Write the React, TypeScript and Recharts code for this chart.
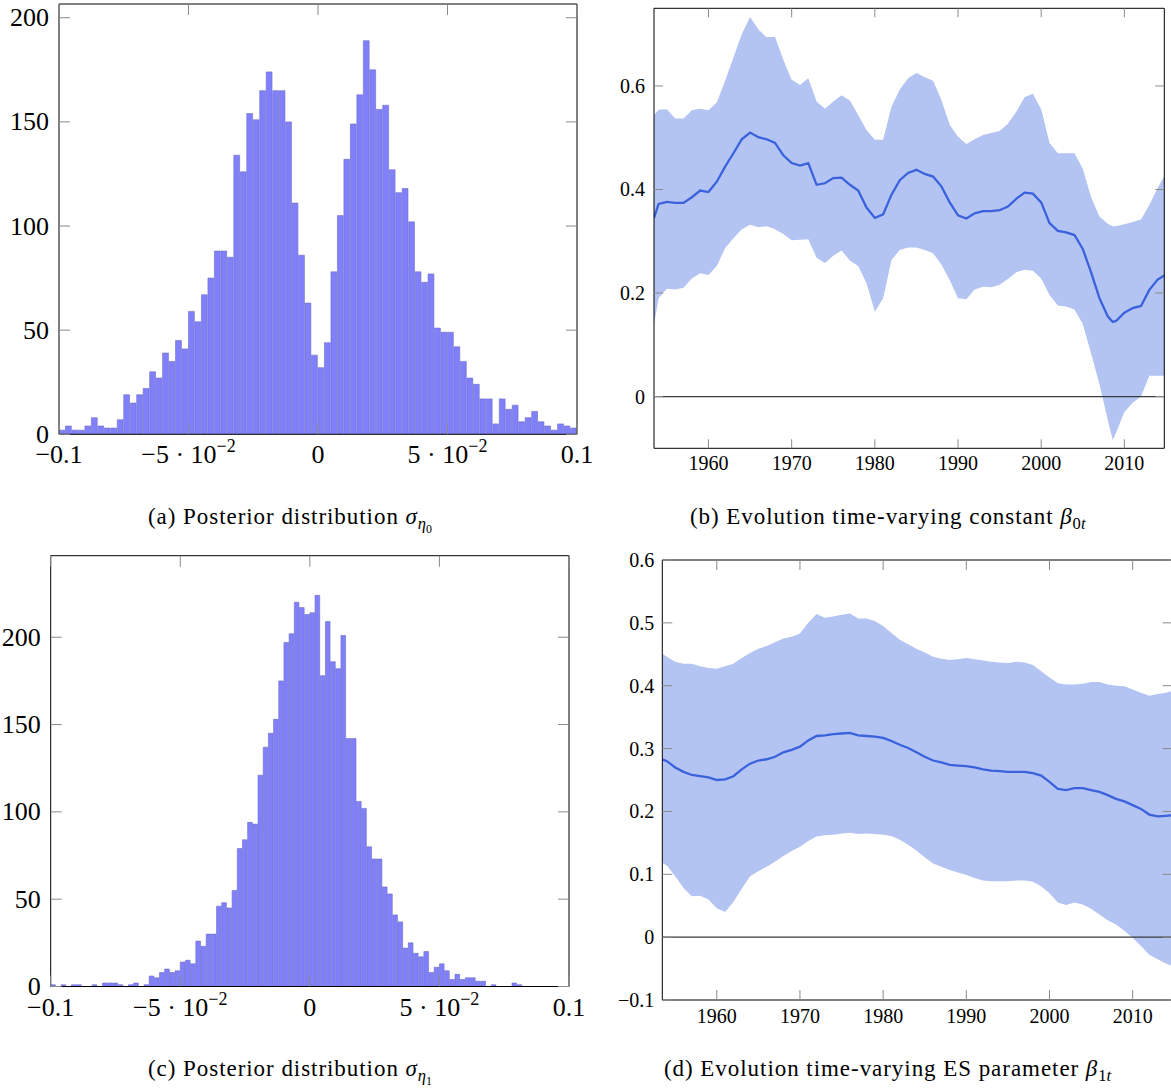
import React from 'react';
import { ComposedChart, Bar, Area, Line, XAxis, YAxis, ReferenceLine } from 'recharts';

const FONT = '"Liberation Serif", "DejaVu Serif", serif';
const TICK = '#8a8a8a';

// (a) posterior sigma_eta0, 80 bins of 0.0025 on [-0.1, 0.1]
const histAStart = -0.1;
const histABin = 0.0025;
const histACounts = [
  2, 4, 2, 2, 4, 8, 4, 3, 3, 7, 19, 15, 19, 22, 30, 27, 39, 35, 45, 41,
  59, 54, 67, 75, 88, 88, 85, 134, 126, 154, 151, 165, 174, 165, 165, 150, 111, 86, 63, 38,
  32, 44, 78, 105, 132, 149, 163, 189, 175, 156, 158, 127, 116, 118, 102, 78, 73, 77, 51, 49,
  49, 42, 35, 27, 24, 17, 17, 5, 17, 12, 14, 6, 8, 11, 6, 4, 2, 5, 4, 3,
];

// (c) posterior sigma_eta1, 100 bins of 0.002 on [-0.1, 0.1]
const histCStart = -0.1;
const histCBin = 0.002;
const histCCounts = [
  1, 0, 1, 0, 1, 1, 0, 0, 1, 0, 2, 2, 2, 1, 0, 1, 2, 0, 1, 6,
  5, 8, 10, 8, 9, 14, 15, 13, 26, 23, 30, 30, 46, 48, 45, 55, 79, 84, 94, 93,
  121, 137, 145, 153, 175, 197, 202, 220, 217, 213,
  214, 224, 178, 209, 186, 182, 201, 142, 142, 106, 102, 80, 73, 73, 57, 53, 41, 37, 22, 25,
  19, 17, 20, 8, 11, 13, 9, 4, 7, 4, 5, 5, 3, 3, 0, 1, 0, 0, 0, 2,
  1, 0, 0, 0, 0, 0, 0, 0, 0, 0,
];

const histXTicks = [-0.1, -0.05, 0, 0.05, 0.1];
const histYTicks = [0, 50, 100, 150, 200];

// (b) time-varying constant beta_0t
const yearsB = [
  1953.45, 1954, 1955, 1956, 1957, 1958, 1959, 1960, 1961, 1962, 1963, 1964, 1965, 1966, 1967, 1968, 1969,
  1970, 1971, 1972, 1973, 1974, 1975, 1976, 1977, 1978, 1979, 1980, 1981, 1982, 1983, 1984, 1985, 1986,
  1987, 1988, 1989, 1990, 1991, 1992, 1993, 1994, 1995, 1996, 1997, 1998, 1999, 2000, 2001, 2002, 2003,
  2004, 2005, 2006, 2007, 2008, 2008.6, 2009, 2010, 2011, 2012, 2013, 2014, 2014.8,
];
const upperB = [
  0.544, 0.554, 0.555, 0.537, 0.537, 0.553, 0.556, 0.553, 0.568, 0.61, 0.655, 0.7, 0.733, 0.709, 0.694, 0.695, 0.65,
  0.612, 0.602, 0.615, 0.57, 0.556, 0.57, 0.582, 0.572, 0.544, 0.515, 0.496, 0.496, 0.56, 0.593, 0.615, 0.625, 0.617,
  0.61, 0.573, 0.525, 0.502, 0.488, 0.497, 0.505, 0.509, 0.513, 0.527, 0.55, 0.578, 0.585, 0.555, 0.49, 0.47, 0.47,
  0.47, 0.44, 0.385, 0.348, 0.334, 0.329, 0.329, 0.333, 0.337, 0.342, 0.37, 0.403, 0.426,
];
const meanB = [
  0.345, 0.372, 0.376, 0.374, 0.374, 0.385, 0.398, 0.395, 0.415, 0.444, 0.47, 0.497, 0.51, 0.501, 0.497, 0.49, 0.466,
  0.451, 0.446, 0.451, 0.409, 0.412, 0.422, 0.423, 0.409, 0.398, 0.365, 0.345, 0.352, 0.39, 0.418, 0.432, 0.438, 0.43,
  0.425, 0.406, 0.375, 0.35, 0.344, 0.354, 0.358, 0.358, 0.36, 0.367, 0.382, 0.394, 0.392, 0.375, 0.335, 0.32, 0.317,
  0.312, 0.285, 0.24, 0.19, 0.155, 0.144, 0.146, 0.162, 0.171, 0.175, 0.206, 0.226, 0.234,
];
const lowerB = [
  0.138, 0.19, 0.208, 0.207, 0.21, 0.228, 0.238, 0.235, 0.252, 0.287, 0.306, 0.323, 0.332, 0.327, 0.329, 0.323, 0.314,
  0.302, 0.303, 0.304, 0.268, 0.258, 0.272, 0.282, 0.263, 0.252, 0.219, 0.164, 0.19, 0.264, 0.283, 0.288, 0.288, 0.283,
  0.277, 0.255, 0.225, 0.19, 0.188, 0.207, 0.212, 0.211, 0.216, 0.227, 0.24, 0.245, 0.243, 0.228, 0.196, 0.176, 0.174,
  0.168, 0.14, 0.083, 0.024, -0.045, -0.084, -0.07, -0.03, -0.012, 0.0, 0.04, 0.04, 0.04,
];

// (d) time-varying ES parameter beta_1t
const yearsD = [
  1953.45, 1954, 1955, 1956, 1957, 1958, 1959, 1960, 1961, 1962, 1963, 1964, 1965, 1966, 1967, 1968, 1969,
  1970, 1971, 1972, 1973, 1974, 1975, 1976, 1977, 1978, 1979, 1980, 1981, 1982, 1983, 1984, 1985, 1986,
  1987, 1988, 1989, 1990, 1991, 1992, 1993, 1994, 1995, 1996, 1997, 1998, 1999, 2000, 2001, 2002, 2003,
  2004, 2005, 2006, 2007, 2008, 2009, 2010, 2011, 2012, 2013, 2014, 2014.8,
];
const upperD = [
  0.451, 0.446, 0.438, 0.435, 0.435, 0.431, 0.428, 0.427, 0.431, 0.435, 0.444, 0.452, 0.459, 0.463, 0.469, 0.475, 0.478,
  0.483, 0.5, 0.514, 0.508, 0.51, 0.513, 0.515, 0.507, 0.507, 0.503, 0.495, 0.484, 0.473, 0.466, 0.459, 0.453, 0.446,
  0.443, 0.441, 0.442, 0.444, 0.442, 0.44, 0.438, 0.437, 0.436, 0.438, 0.437, 0.433, 0.423, 0.413, 0.404, 0.402, 0.402,
  0.403, 0.406, 0.406, 0.402, 0.4, 0.399, 0.394, 0.389, 0.384, 0.387, 0.389, 0.392,
];
const meanD = [
  0.283, 0.28, 0.27, 0.263, 0.258, 0.256, 0.254, 0.25, 0.251, 0.256, 0.267, 0.276, 0.281, 0.283, 0.287, 0.294, 0.298,
  0.303, 0.313, 0.32, 0.321, 0.323, 0.324, 0.325, 0.321, 0.32, 0.319, 0.317, 0.312, 0.306, 0.301, 0.294, 0.287, 0.281,
  0.278, 0.274, 0.273, 0.272, 0.27, 0.267, 0.265, 0.264, 0.263, 0.263, 0.263, 0.261, 0.257, 0.247, 0.236, 0.234, 0.237,
  0.237, 0.234, 0.231, 0.226, 0.22, 0.216, 0.21, 0.204, 0.195, 0.192, 0.193, 0.194,
];
const lowerD = [
  0.118, 0.114, 0.097, 0.078, 0.065, 0.066, 0.06, 0.046, 0.04, 0.056, 0.077, 0.097, 0.105, 0.112, 0.12, 0.129, 0.137,
  0.144, 0.153, 0.16, 0.162, 0.163, 0.165, 0.166, 0.164, 0.165, 0.164, 0.163, 0.161, 0.155, 0.147, 0.138, 0.127, 0.117,
  0.112, 0.107, 0.103, 0.099, 0.094, 0.09, 0.089, 0.089, 0.089, 0.09, 0.09, 0.088, 0.081, 0.07, 0.055, 0.051, 0.055,
  0.052, 0.045, 0.036, 0.027, 0.02, 0.01, -0.001, -0.014, -0.028, -0.035, -0.042, -0.046,
];

const yearTicks = [1960, 1970, 1980, 1990, 2000, 2010];
const yTicksB = [0, 0.2, 0.4, 0.6];
const yTicksD = [-0.1, 0, 0.1, 0.2, 0.3, 0.4, 0.5, 0.6];

const fmt = (v: number) => (v < 0 ? '\u2212' + String(-v) : String(v));

// tick components draw their own inward tick mark, plus an optional label
type Side = 'bottom' | 'top' | 'left' | 'right';
const tickMark = (side: Side, len: number, x: number, y: number) => {
  const dx = side === 'left' ? len : side === 'right' ? -len : 0;
  const dy = side === 'bottom' ? -len : side === 'top' ? len : 0;
  return <line x1={x} y1={y} x2={x + dx} y2={y + dy} stroke={TICK} strokeWidth={1} />;
};

const bareTick = (side: Side, len: number) => (p: any) => <g>{tickMark(side, len, p.x, p.y)}</g>;

const histXTick = (len: number) => (p: any) => {
  const v = p.payload.value;
  const sci = Math.abs(Math.abs(v) - 0.05) < 1e-9;
  return (
    <g>
      {tickMark('bottom', len, p.x, p.y)}
      <text x={p.x} y={p.y + 29} textAnchor="middle" fontFamily={FONT} fontSize={26} fill="#000">
        {sci ? (
          <>
            <tspan>{v < 0 ? '\u22125 \u00b7 10' : '5 \u00b7 10'}</tspan>
            <tspan dy={-11} fontSize={18}>{'\u22122'}</tspan>
          </>
        ) : (
          fmt(v)
        )}
      </text>
    </g>
  );
};

const histYTick = (len: number) => (p: any) => (
  <g>
    {tickMark('left', len, p.x, p.y)}
    <text x={p.x - 10} y={p.y + 8.5} textAnchor="end" fontFamily={FONT} fontSize={26} fill="#000">
      {fmt(p.payload.value)}
    </text>
  </g>
);

const yearTick = (len: number, off: number) => (p: any) => (
  <g>
    {tickMark('bottom', len, p.x, p.y)}
    <text x={p.x} y={p.y + off} textAnchor="middle" fontFamily={FONT} fontSize={20} fill="#000">
      {p.payload.value}
    </text>
  </g>
);

const valTick = (len: number, gap: number) => (p: any) => (
  <g>
    {tickMark('left', len, p.x, p.y)}
    <text x={p.x - gap} y={p.y + 7} textAnchor="end" fontFamily={FONT} fontSize={20} fill="#000">
      {fmt(p.payload.value)}
    </text>
  </g>
);

const axisCommon = { tickSize: 0, tickMargin: 0, tickLine: false, axisLine: { stroke: '#000', strokeWidth: 1 }, allowDataOverflow: true, interval: 0 as const };

function Histogram(props: any) {
  const { counts, start, bin, yMax, width, height, top, right, yAxisWidth, xAxisHeight } = props;
  const rows = counts.map((c: number, i: number) => ({ x: start + (i + 0.5) * bin, count: c }));
  const plotWidth = width - right - 1 - yAxisWidth;
  const dom = [-0.1, 0.1];
  const len = 11;
  return (
    <ComposedChart width={width} height={height} data={rows} margin={{ top: top - 1, right, bottom: 0, left: 0 }} barGap={0} barCategoryGap={0}>
      <XAxis {...axisCommon} dataKey="x" type="number" domain={dom} ticks={histXTicks}
        height={xAxisHeight} tick={histXTick(len)} />
      <XAxis {...axisCommon} xAxisId="top" orientation="top" dataKey="x" type="number" domain={dom} ticks={histXTicks}
        height={1} tick={bareTick('top', len)} />
      <YAxis {...axisCommon} type="number" domain={[0, yMax]} ticks={histYTicks} width={yAxisWidth}
        tick={histYTick(len)} />
      <YAxis {...axisCommon} yAxisId="r" orientation="right" type="number" domain={[0, yMax]} ticks={histYTicks}
        width={1} tick={bareTick('right', len)} />
      <Bar dataKey="count" fill="#8080ff" stroke="#6c6cc0" strokeWidth={0.6}
        barSize={plotWidth / counts.length} isAnimationActive={false} />
    </ComposedChart>
  );
}

function BandChart(props: any) {
  const { years, lower, mean, upper, yDomain, yTicks, width, height, top, right, yAxisWidth, xAxisHeight, tickLen, labelOff, labelGap } = props;
  const rows = years.map((year: number, i: number) => ({ year, band: [lower[i], upper[i]], mean: mean[i] }));
  const xDom = [1953.45, 2014.8];
  return (
    <ComposedChart width={width} height={height} data={rows} margin={{ top: top - 1, right, bottom: 0, left: 0 }}>
      <XAxis {...axisCommon} dataKey="year" type="number" domain={xDom} ticks={yearTicks}
        height={xAxisHeight} tick={yearTick(tickLen, labelOff)} />
      <XAxis {...axisCommon} xAxisId="top" orientation="top" dataKey="year" type="number" domain={xDom} ticks={yearTicks}
        height={1} tick={bareTick('top', tickLen)} />
      <YAxis {...axisCommon} type="number" domain={yDomain} ticks={yTicks} width={yAxisWidth}
        tick={valTick(tickLen, labelGap)} />
      <YAxis {...axisCommon} yAxisId="r" orientation="right" type="number" domain={yDomain} ticks={yTicks}
        width={1} tick={bareTick('right', tickLen)} />
      <Area dataKey="band" type="linear" stroke="none" fill="#b3c3f2" fillOpacity={1} isAnimationActive={false} />
      <ReferenceLine y={0} stroke="#3a3a3a" strokeWidth={1.2} />
      <Line dataKey="mean" type="linear" stroke="#3a62dc" strokeWidth={2.3} dot={false} isAnimationActive={false} />
    </ComposedChart>
  );
}

const sub: React.CSSProperties = { fontSize: '0.72em', verticalAlign: '-0.32em', letterSpacing: 0 };

function Caption({ left, top, children }: any) {
  return (
    <div style={{ position: 'absolute', left, top, fontFamily: FONT, fontSize: 23, letterSpacing: '0.95px', lineHeight: '24px', whiteSpace: 'nowrap', color: '#000' }}>
      {children}
    </div>
  );
}

export default function App() {
  return (
    <div style={{ position: 'absolute', left: 0, top: 0, width: 1171, height: 1088, overflow: 'hidden', background: '#fff' }}>
      <div style={{ position: 'absolute', left: 0, top: 0 }}>
        <Histogram counts={histACounts} start={histAStart} bin={histABin} yMax={206.6}
          width={600} height={480} top={4} right={22} yAxisWidth={59} xAxisHeight={45.7} />
      </div>
      <div style={{ position: 'absolute', left: 595, top: 0 }}>
        <BandChart years={yearsB} lower={lowerB} mean={meanB} upper={upperB} yDomain={[-0.1, 0.75]} yTicks={yTicksB}
          width={576} height={480} top={8.3} right={5.7} yAxisWidth={59} xAxisHeight={31.7} tickLen={9} labelOff={22} labelGap={9} />
      </div>
      <div style={{ position: 'absolute', left: 0, top: 550 }}>
        <Histogram counts={histCCounts} start={histCStart} bin={histCBin} yMax={246.7}
          width={590} height={480} top={5.7} right={20} yAxisWidth={50.7} xAxisHeight={43.5} />
      </div>
      <div style={{ position: 'absolute', left: 595, top: 550 }}>
        <BandChart years={yearsD} lower={lowerD} mean={meanD} upper={upperD} yDomain={[-0.1, 0.6]} yTicks={yTicksD}
          width={580} height={490} top={10} right={1.4} yAxisWidth={67.3} xAxisHeight={40} tickLen={10} labelOff={23} labelGap={8} />
      </div>
      <Caption left={148} top={505}>
        (a) Posterior distribution <i>σ</i><span style={sub}><i>η</i><span style={sub}>0</span></span>
      </Caption>
      <Caption left={690} top={505}>
        (b) Evolution time-varying constant <i>β</i><span style={sub}>0<i>t</i></span>
      </Caption>
      <Caption left={148} top={1057}>
        (c) Posterior distribution <i>σ</i><span style={sub}><i>η</i><span style={sub}>1</span></span>
      </Caption>
      <Caption left={664} top={1057}>
        (d) Evolution time-varying ES parameter <i>β</i><span style={sub}>1<i>t</i></span>
      </Caption>
    </div>
  );
}
